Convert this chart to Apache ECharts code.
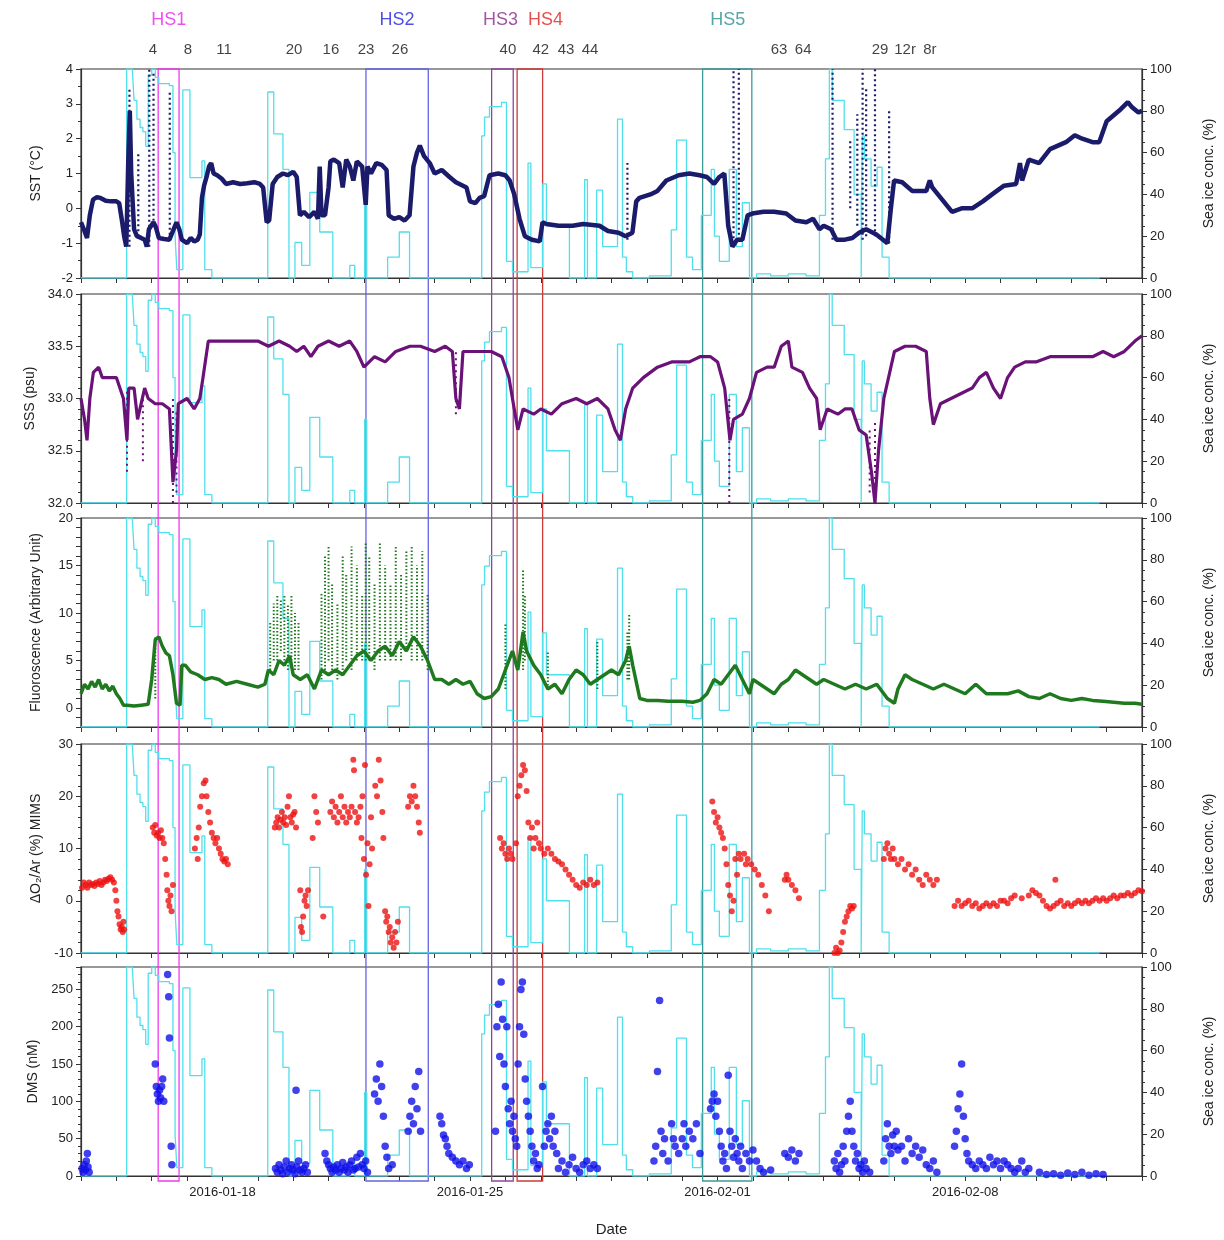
<!DOCTYPE html>
<html>
<head>
<meta charset="utf-8">
<script src="https://cdn.jsdelivr.net/npm/echarts@6/dist/echarts.min.js"></script>
<style>
  html, body { margin: 0; padding: 0; background: #fff; }
  #chart { width: 1224px; height: 1240px; }
</style>
</head>
<body>
<div id="chart"></div>
<script>
// x values are days since 2016-01-14 00:00
const dateTickDays = [4, 11, 18, 25];
const dateTickLabels = ['2016-01-18', '2016-01-25', '2016-02-01', '2016-02-08'];

const hsNames = ['HS1', 'HS2', 'HS3', 'HS4', 'HS5'];
const hsStart = [2.18, 8.05, 11.60, 12.32, 17.56];
const hsEnd = [2.77, 9.81, 12.21, 13.04, 18.95];
const hsLabelDay = [2.48, 8.93, 11.85, 13.12, 18.27];

const stationNames = ['4', '8', '11', '20', '16', '23', '26', '40', '42', '43', '44', '63', '64', '29', '12r', '8r'];
const stationDays = [2.03, 3.02, 4.04, 6.02, 7.06, 8.05, 9.01, 12.06, 12.99, 13.70, 14.38, 19.72, 20.40, 22.57, 23.28, 23.98];

// sea ice concentration (%), value holds from each day until the next one
const seaIce = [
  [0, 0], [1.29, 100], [1.45, 100], [1.5, 85], [1.58, 76], [1.67, 72], [1.75, 70], [1.83, 63],
  [1.9, 97], [2.0, 100], [2.1, 96], [2.2, 93], [2.5, 92], [2.6, 60], [2.66, 20], [2.71, 4],
  [2.88, 90], [3.08, 48], [3.42, 56], [3.5, 4], [3.7, 0],
  [5.28, 89], [5.45, 69], [5.71, 52], [5.88, 0], [6.05, 17], [6.24, 6], [6.47, 41], [6.75, 22],
  [7.12, 0], [7.6, 6], [7.74, 0], [8.02, 40], [8.08, 0], [8.67, 10], [9.0, 22], [9.29, 0],
  [11.33, 68], [11.41, 77], [11.55, 82], [11.89, 84], [12.03, 8], [12.2, 3], [12.64, 55],
  [12.72, 5], [13.05, 45], [13.16, 25], [13.81, 0], [14.24, 47], [14.32, 0], [14.58, 42],
  [14.75, 15], [15.17, 76], [15.31, 10], [15.42, 3], [15.6, 0], [16.07, 1], [16.69, 23],
  [16.84, 66], [17.12, 10], [17.29, 4], [17.54, 30], [17.82, 52], [17.91, 20], [18.05, 8],
  [18.33, 52], [18.53, 15], [18.7, 36], [18.9, 0], [19.1, 2], [19.5, 1], [20.0, 2], [20.5, 1],
  [20.88, 30], [21.05, 57], [21.16, 100], [21.24, 85], [21.58, 71], [21.86, 40], [22.06, 0],
  [22.09, 68], [22.15, 57], [22.34, 44], [22.51, 53], [22.65, 10], [22.85, 0], [28.8, 0]
];

const sst = [
  [0.0, -0.4], [0.08, -0.6], [0.17, -0.85], [0.25, -0.2], [0.34, 0.25], [0.45, 0.32], [0.55, 0.3],
  [0.7, 0.22], [0.85, 0.2], [1.0, 0.2], [1.08, 0.15], [1.15, -0.3], [1.22, -0.8], [1.28, -1.1],
  [1.34, 1.5], [1.38, 2.8], [1.42, 1.0], [1.5, -0.6], [1.58, -0.8], [1.7, -0.85], [1.8, -0.9],
  [1.86, -1.1], [1.92, -0.6], [2.05, -0.4], [2.12, -0.55], [2.2, -0.85], [2.35, -0.88], [2.5, -0.9],
  [2.7, -0.4], [2.78, -0.6], [2.85, -0.9], [3.0, -1.0], [3.1, -0.85], [3.2, -0.95], [3.3, -0.9],
  [3.36, -0.75], [3.42, 0.3], [3.48, 0.65], [3.55, 0.9], [3.62, 1.2], [3.68, 1.3], [3.75, 1.0],
  [3.85, 0.95], [3.98, 0.85], [4.1, 0.7], [4.3, 0.75], [4.5, 0.7], [4.7, 0.72], [4.9, 0.75],
  [5.06, 0.7], [5.15, 0.6], [5.25, -0.4], [5.32, -0.35], [5.42, 0.7], [5.55, 0.9], [5.71, 1.0],
  [5.85, 0.95], [6.0, 1.05], [6.1, 0.9], [6.19, -0.2], [6.3, -0.1], [6.45, -0.25], [6.6, -0.1],
  [6.7, -0.3], [6.75, 1.2], [6.8, -0.2], [6.9, -0.2], [7.0, 0.6], [7.05, 1.35], [7.15, 1.4],
  [7.3, 1.3], [7.4, 0.6], [7.5, 1.4], [7.6, 1.2], [7.7, 0.8], [7.8, 1.35], [7.95, 1.2], [8.05, 0.1],
  [8.1, 1.2], [8.2, 1.0], [8.35, 1.3], [8.5, 1.25], [8.64, 1.1], [8.7, -0.2], [8.85, -0.3],
  [9.0, -0.25], [9.15, -0.35], [9.29, -0.2], [9.4, 1.2], [9.5, 1.6], [9.58, 1.8], [9.7, 1.5],
  [9.86, 1.3], [10.0, 1.0], [10.2, 1.1], [10.42, 0.9], [10.6, 0.75], [10.9, 0.6], [11.0, 0.2],
  [11.15, 0.15], [11.27, 0.3], [11.4, 0.35], [11.55, 0.95], [11.8, 1.0], [12.0, 0.95], [12.12, 0.8],
  [12.25, 0.4], [12.4, -0.3], [12.55, -0.8], [12.75, -0.9], [12.97, -0.95], [13.05, -0.4],
  [13.16, -0.45], [13.5, -0.5], [13.9, -0.5], [14.2, -0.45], [14.66, -0.5], [14.9, -0.65],
  [15.2, -0.7], [15.4, -0.8], [15.59, -0.7], [15.7, 0.2], [15.79, 0.3], [16.1, 0.4], [16.3, 0.5],
  [16.55, 0.8], [16.9, 0.95], [17.2, 1.0], [17.49, 0.95], [17.7, 0.9], [17.9, 0.7], [18.05, 0.9],
  [18.19, 1.0], [18.3, -0.5], [18.42, -1.1], [18.55, -0.9], [18.7, -0.9], [18.85, -0.2],
  [18.98, -0.15], [19.3, -0.1], [19.6, -0.1], [19.94, -0.15], [20.2, -0.35], [20.51, -0.4],
  [20.7, -0.3], [20.88, -0.6], [21.0, -0.5], [21.21, -0.6], [21.36, -0.9], [21.6, -0.9],
  [21.81, -0.85], [22.0, -0.7], [22.2, -0.6], [22.49, -0.75], [22.8, -1.0], [22.9, 0.0],
  [22.99, 0.8], [23.22, 0.75], [23.5, 0.5], [23.9, 0.5], [24.0, 0.8], [24.07, 0.6], [24.35, 0.25],
  [24.63, -0.1], [24.9, 0.0], [25.2, 0.0], [25.5, 0.2], [25.76, 0.4], [26.1, 0.65], [26.44, 0.7],
  [26.55, 1.3], [26.61, 0.8], [26.8, 1.4], [27.09, 1.3], [27.4, 1.7], [27.85, 1.9], [28.1, 2.1],
  [28.31, 2.0], [28.6, 1.9], [28.79, 1.9], [29.0, 2.5], [29.35, 2.8], [29.6, 3.05], [29.72, 2.9],
  [29.9, 2.75], [30.0, 2.8]
];
// [day, low, high] columns of scattered points
const sstSpikes = [
  [1.37, -1.1, 3.45], [1.62, -0.8, 1.6], [1.93, -1.1, 4], [2.05, -0.5, 3.9], [2.51, -0.9, 3.4],
  [15.45, -0.9, 1.3], [18.45, -1, 4], [18.6, -0.9, 4], [21.25, -0.9, 4], [21.75, 0, 2],
  [21.95, -0.5, 2.7], [22.1, -0.9, 4], [22.2, -0.8, 3.5], [22.45, -0.8, 4], [22.85, -1, 2.8]
];

const sss = [
  [0.0, 33.0], [0.1, 32.8], [0.17, 32.6], [0.25, 33.0], [0.35, 33.25], [0.5, 33.3], [0.6, 33.2],
  [0.8, 33.2], [1.0, 33.2], [1.1, 33.1], [1.2, 33.0], [1.3, 32.6], [1.35, 33.1], [1.5, 33.1],
  [1.6, 32.8], [1.8, 33.1], [1.9, 33.0], [2.1, 32.95], [2.3, 32.95], [2.5, 32.9], [2.6, 32.2],
  [2.7, 32.5], [2.75, 32.95], [3.0, 33.0], [3.2, 32.9], [3.36, 33.0], [3.45, 33.2], [3.6, 33.55],
  [4.0, 33.55], [4.5, 33.55], [5.0, 33.55], [5.3, 33.5], [5.6, 33.55], [5.9, 33.5], [6.1, 33.45],
  [6.3, 33.5], [6.5, 33.4], [6.7, 33.5], [7.0, 33.55], [7.3, 33.5], [7.6, 33.55], [7.8, 33.45],
  [8.0, 33.3], [8.3, 33.4], [8.6, 33.35], [8.9, 33.45], [9.3, 33.5], [9.6, 33.5], [10.0, 33.45],
  [10.3, 33.5], [10.5, 33.45], [10.6, 33.0], [10.7, 32.9], [10.8, 33.45], [11.2, 33.45],
  [11.6, 33.45], [11.9, 33.4], [12.1, 33.2], [12.25, 32.9], [12.35, 32.7], [12.5, 32.9],
  [12.8, 32.85], [13.0, 32.9], [13.3, 32.85], [13.6, 32.95], [14.0, 33.0], [14.3, 32.95],
  [14.6, 33.0], [14.9, 32.9], [15.1, 32.7], [15.25, 32.6], [15.4, 32.9], [15.6, 33.1], [15.9, 33.2],
  [16.3, 33.3], [16.7, 33.35], [17.2, 33.35], [17.5, 33.4], [17.8, 33.4], [18.0, 33.35],
  [18.2, 33.1], [18.35, 32.6], [18.45, 32.8], [18.7, 32.85], [18.9, 33.0], [19.1, 33.25],
  [19.4, 33.3], [19.6, 33.3], [19.8, 33.5], [20.0, 33.55], [20.1, 33.3], [20.4, 33.25],
  [20.6, 33.1], [20.8, 33.0], [20.9, 32.7], [21.1, 32.9], [21.4, 32.85], [21.6, 32.9], [21.8, 32.9],
  [22.0, 32.7], [22.2, 32.65], [22.35, 32.3], [22.45, 32.0], [22.55, 32.5], [22.7, 33.0],
  [22.9, 33.3], [23.0, 33.45], [23.3, 33.5], [23.6, 33.5], [23.9, 33.45], [24.0, 33.0],
  [24.1, 32.75], [24.3, 32.95], [24.6, 33.0], [24.9, 33.05], [25.2, 33.1], [25.4, 33.2],
  [25.6, 33.25], [25.8, 33.1], [26.0, 33.0], [26.2, 33.2], [26.4, 33.3], [26.7, 33.35],
  [27.0, 33.35], [27.4, 33.4], [27.8, 33.4], [28.2, 33.4], [28.6, 33.4], [28.9, 33.45],
  [29.2, 33.4], [29.5, 33.45], [29.8, 33.55], [30.0, 33.6]
];
const sssSpikes = [
  [1.3, 32.3, 33.1], [1.75, 32.4, 33.0], [2.6, 32.0, 33.0], [2.7, 32.1, 32.9], [10.6, 32.85, 33.45],
  [18.33, 32.0, 33.0], [22.3, 32.1, 32.7], [22.45, 32.0, 32.8]
];

const fluor = [
  [0.0, 1.5], [0.1, 2.5], [0.2, 2.0], [0.3, 2.8], [0.4, 2.2], [0.5, 3.0], [0.6, 2.0], [0.7, 2.5],
  [0.8, 1.8], [0.9, 2.3], [1.0, 1.5], [1.1, 1.0], [1.2, 0.3], [1.3, 0.3], [1.5, 0.2], [1.7, 0.3],
  [1.9, 0.4], [2.0, 3], [2.1, 7.2], [2.2, 7.5], [2.3, 6.5], [2.4, 5.8], [2.5, 5.5], [2.6, 3.5],
  [2.7, 0.5], [2.8, 0.3], [2.85, 4.5], [2.95, 4.5], [3.1, 3.8], [3.3, 3.5], [3.5, 3.0], [3.7, 3.2],
  [3.9, 3.0], [4.1, 2.5], [4.4, 2.8], [4.7, 2.5], [5.0, 2.2], [5.2, 2.5], [5.3, 4], [5.45, 3.5],
  [5.6, 5.0], [5.75, 4.5], [5.9, 5.5], [6.0, 3.5], [6.2, 3.0], [6.4, 3.5], [6.6, 2.0], [6.8, 4.0],
  [7.0, 3.5], [7.2, 4.0], [7.4, 3.5], [7.6, 4.5], [7.8, 5.5], [8.0, 6.0], [8.2, 5.0], [8.4, 6.0],
  [8.6, 6.5], [8.8, 5.5], [9.0, 7.0], [9.2, 6.0], [9.4, 7.5], [9.6, 6.5], [9.8, 5.0], [9.9, 4.0],
  [10.0, 3.0], [10.2, 3.0], [10.4, 2.5], [10.6, 3.0], [10.8, 2.5], [11.0, 2.8], [11.2, 1.5],
  [11.4, 1.0], [11.6, 1.2], [11.8, 2.0], [12.0, 4], [12.2, 6], [12.35, 4], [12.5, 8], [12.6, 6],
  [12.8, 4.5], [13.0, 3.5], [13.2, 2.0], [13.4, 2.5], [13.6, 1.5], [13.8, 3.0], [14.0, 4.0],
  [14.2, 3.5], [14.4, 2.5], [14.6, 3.0], [14.8, 3.5], [15.0, 4.0], [15.2, 3.5], [15.4, 5.0],
  [15.5, 6.5], [15.6, 4.5], [15.8, 1.0], [16.0, 0.8], [16.3, 0.8], [16.6, 0.7], [17.0, 0.7],
  [17.3, 0.6], [17.5, 0.8], [17.7, 1.5], [17.9, 3.0], [18.1, 2.5], [18.3, 3.5], [18.5, 4.5],
  [18.7, 3.0], [18.9, 1.5], [19.0, 3.0], [19.2, 2.5], [19.4, 2.0], [19.6, 1.5], [19.8, 2.5],
  [20.0, 3.0], [20.2, 4.0], [20.4, 3.5], [20.6, 3.0], [20.8, 2.5], [21.0, 3.0], [21.3, 2.5],
  [21.6, 2.0], [21.9, 2.5], [22.2, 2.0], [22.5, 2.5], [22.8, 1.0], [23.0, 0.5], [23.1, 2.0],
  [23.3, 3.5], [23.5, 3.0], [23.8, 2.5], [24.1, 2.0], [24.4, 2.5], [24.7, 2.0], [25.0, 1.5],
  [25.3, 2.5], [25.6, 1.5], [25.9, 1.5], [26.2, 1.5], [26.5, 1.8], [26.8, 1.2], [27.1, 1.0],
  [27.4, 1.5], [27.7, 1.0], [28.0, 0.8], [28.3, 1.0], [28.6, 0.8], [28.9, 0.7], [29.2, 0.6],
  [29.5, 0.5], [29.8, 0.5], [30.0, 0.4]
];
const fluorSpikes = [
  [2.1, 1, 7.5], [5.35, 4, 9], [5.45, 5, 11], [5.55, 5, 12], [5.65, 6, 11.5], [5.75, 5, 12],
  [5.85, 4, 11], [5.95, 5, 12], [6.05, 4, 10], [6.15, 4, 9], [6.8, 3, 12], [6.9, 4, 16],
  [7.0, 5, 17], [7.1, 4, 13], [7.25, 3, 11], [7.4, 4, 16], [7.5, 5, 14], [7.65, 4, 17],
  [7.8, 5, 15], [7.95, 5, 12], [8.05, 5, 17.5], [8.15, 5, 16], [8.3, 4, 13], [8.45, 5, 17.5],
  [8.6, 5, 15], [8.75, 5, 13], [8.9, 5, 17], [9.05, 5, 14], [9.2, 6, 16.5], [9.35, 5, 17],
  [9.5, 5, 15], [9.65, 5, 16.5], [9.8, 4, 12], [12.0, 2, 9], [12.5, 4, 14.5], [12.55, 5, 12],
  [13.2, 2, 6], [14.6, 2, 7], [15.45, 3, 8], [15.5, 3, 10]
];

const o2ar = [
  [0.03, 2.5], [0.08, 3.5], [0.13, 3], [0.18, 2.5], [0.23, 3.5], [0.28, 3], [0.33, 3.2], [0.38, 2.8],
  [0.43, 3.5], [0.48, 3.2], [0.53, 3.8], [0.58, 3], [0.63, 3.5], [0.68, 4], [0.73, 3.8], [0.78, 4.2],
  [0.83, 4.5], [0.88, 4], [0.93, 3.5], [0.97, 2], [1.0, 0], [1.03, -2], [1.06, -3], [1.09, -4.5],
  [1.12, -5.5], [1.15, -5], [1.18, -6], [1.2, -4], [1.22, -5.5],
  [2.03, 14], [2.07, 13], [2.1, 14.5], [2.14, 12.5], [2.18, 13], [2.22, 12], [2.26, 13.5], [2.3, 12],
  [2.34, 11], [2.38, 8], [2.42, 5], [2.44, 2], [2.47, 0], [2.5, -1], [2.53, 1], [2.56, -2], [2.6, 3],
  [3.22, 10], [3.27, 12], [3.3, 8], [3.33, 14], [3.37, 18], [3.42, 20], [3.47, 22.5], [3.52, 23],
  [3.55, 20], [3.6, 17], [3.65, 15], [3.7, 13], [3.75, 12], [3.8, 11], [3.85, 12], [3.9, 10],
  [3.95, 9], [4.0, 8], [4.05, 7.5], [4.1, 8], [4.15, 7],
  [5.48, 14], [5.52, 15], [5.56, 16], [5.6, 14], [5.64, 15.5], [5.68, 17], [5.72, 15], [5.76, 16],
  [5.8, 14.5], [5.84, 18], [5.88, 20], [5.92, 16], [5.96, 15], [6.0, 16.5], [6.04, 17], [6.08, 14],
  [6.2, 2], [6.22, -5], [6.25, -6], [6.28, -3], [6.32, 0], [6.35, 1], [6.38, -1], [6.42, 2],
  [6.55, 12], [6.6, 20], [6.65, 17], [6.7, 15], [6.85, -3],
  [7.05, 17], [7.1, 19], [7.15, 16], [7.2, 18], [7.25, 15], [7.3, 17], [7.35, 20], [7.4, 16],
  [7.45, 18], [7.5, 15], [7.55, 17], [7.6, 16], [7.65, 18], [7.7, 27], [7.72, 25], [7.75, 17],
  [7.8, 15], [7.85, 16], [7.9, 18], [7.93, 12], [7.96, 20], [8.0, 8], [8.03, 26], [8.06, 5],
  [8.1, 11], [8.13, -1], [8.16, 7], [8.2, 16], [8.23, 10],
  [8.32, 22], [8.37, 20], [8.42, 27], [8.47, 23], [8.52, 17], [8.55, 12],
  [8.6, -2], [8.63, -4], [8.66, -3], [8.7, -6], [8.73, -5], [8.76, -8], [8.8, -7], [8.84, -9],
  [8.88, -6], [8.92, -8], [8.96, -4],
  [9.25, 18], [9.3, 20], [9.35, 19], [9.4, 22], [9.45, 20], [9.5, 18], [9.55, 15], [9.58, 13],
  [11.85, 12], [11.9, 10], [11.95, 11], [12.0, 9], [12.05, 8], [12.1, 10], [12.15, 9], [12.2, 8],
  [12.3, 11], [12.35, 20], [12.4, 22], [12.45, 24], [12.5, 26], [12.55, 25], [12.6, 21],
  [12.65, 15], [12.7, 12], [12.75, 14], [12.8, 10], [12.85, 12], [12.9, 15], [12.95, 11],
  [13.0, 10], [13.1, 9], [13.2, 10], [13.3, 9], [13.4, 8], [13.5, 7.5], [13.6, 7], [13.7, 6],
  [13.8, 5], [13.9, 4], [14.0, 3], [14.1, 2.5], [14.2, 3.5], [14.3, 3], [14.4, 4], [14.5, 3],
  [14.6, 3.5],
  [17.85, 19], [17.9, 17], [17.95, 15], [18.0, 16], [18.05, 14], [18.1, 13], [18.15, 12], [18.2, 10],
  [18.25, 7], [18.3, 3], [18.35, 1], [18.4, -2], [18.45, 0], [18.5, 8], [18.55, 5], [18.6, 9],
  [18.65, 8], [18.75, 9], [18.8, 7], [18.85, 8], [18.95, 7], [19.05, 6], [19.15, 5], [19.25, 3],
  [19.35, 1], [19.45, -2],
  [19.9, 4], [19.95, 5], [20.0, 4], [20.1, 3], [20.2, 2], [20.3, 0.5],
  [21.3, -10], [21.35, -9], [21.4, -10], [21.45, -9.5], [21.5, -8], [21.55, -6], [21.6, -4],
  [21.65, -3], [21.7, -2], [21.75, -1], [21.8, -1.5], [21.85, -1],
  [22.7, 8], [22.75, 10], [22.8, 11], [22.85, 9], [22.9, 8], [22.95, 10], [23.0, 8], [23.1, 7],
  [23.2, 8], [23.3, 6], [23.4, 7], [23.5, 5], [23.6, 6], [23.7, 4], [23.8, 3], [23.9, 5], [24.0, 4],
  [24.1, 3], [24.2, 4],
  [24.7, -1], [24.8, 0], [24.9, -1], [25.0, -0.5], [25.1, 0], [25.2, -1], [25.3, -0.5], [25.4, -1.5],
  [25.5, -1], [25.6, -0.5], [25.7, -1], [25.8, -0.5], [25.9, -1], [26.0, 0], [26.1, 0], [26.2, -0.5],
  [26.3, 0.5], [26.4, 1], [26.6, 0.5], [26.8, 1], [26.9, 2], [27.0, 1.5], [27.1, 1], [27.2, 0],
  [27.3, -1], [27.4, -1.5], [27.5, -1], [27.55, 4], [27.6, -0.5], [27.7, 0], [27.8, -1], [27.9, -0.5],
  [28.0, -1], [28.1, -0.5], [28.2, 0], [28.3, -0.5], [28.4, 0], [28.5, -0.5], [28.6, 0], [28.7, 0.5],
  [28.8, 0], [28.9, 0.5], [29.0, 0], [29.1, 0.5], [29.2, 1], [29.3, 0.5], [29.4, 1], [29.5, 1],
  [29.6, 1.5], [29.7, 1], [29.8, 1.5], [29.9, 2], [30.0, 1.8]
];

const dms = [
  [0.03, 10], [0.06, 5], [0.09, 15], [0.12, 8], [0.15, 20], [0.18, 30], [0.2, 12], [0.23, 5],
  [2.1, 150], [2.13, 120], [2.16, 110], [2.19, 100], [2.22, 115], [2.25, 105], [2.28, 120],
  [2.31, 130], [2.34, 100], [2.45, 270], [2.48, 240], [2.5, 185], [2.55, 40], [2.57, 15],
  [5.5, 10], [5.55, 5], [5.6, 15], [5.65, 8], [5.7, 3], [5.75, 12], [5.8, 20], [5.85, 5], [5.9, 10],
  [5.95, 15], [6.0, 8], [6.05, 3], [6.08, 115], [6.1, 12], [6.15, 20], [6.2, 8], [6.25, 5],
  [6.3, 10], [6.35, 15], [6.4, 5],
  [6.9, 30], [6.95, 20], [7.0, 15], [7.05, 10], [7.1, 5], [7.15, 12], [7.2, 8], [7.25, 15], [7.3, 5],
  [7.35, 10], [7.4, 18], [7.45, 8], [7.5, 12], [7.55, 5], [7.6, 15], [7.65, 20], [7.7, 8],
  [7.75, 10], [7.8, 25], [7.85, 12], [7.9, 30], [7.95, 15], [8.0, 10], [8.05, 20], [8.1, 5],
  [8.3, 110], [8.35, 130], [8.4, 100], [8.45, 150], [8.5, 120], [8.55, 80], [8.6, 40], [8.65, 25],
  [8.7, 10], [8.8, 15],
  [9.25, 60], [9.3, 80], [9.35, 100], [9.4, 70], [9.45, 120], [9.5, 90], [9.55, 140], [9.6, 60],
  [10.15, 80], [10.2, 70], [10.25, 55], [10.3, 50], [10.35, 40], [10.4, 30], [10.5, 25], [10.6, 20],
  [10.7, 15], [10.8, 20], [10.9, 10], [10.98, 15],
  [11.72, 60], [11.76, 200], [11.8, 230], [11.84, 160], [11.88, 260], [11.92, 210], [11.96, 150],
  [12.0, 120], [12.04, 200], [12.08, 90], [12.12, 70], [12.16, 100], [12.2, 60], [12.24, 80],
  [12.28, 50], [12.32, 40], [12.36, 150], [12.4, 200], [12.44, 250], [12.48, 260], [12.52, 190],
  [12.56, 130], [12.6, 100], [12.65, 80], [12.7, 60], [12.75, 40], [12.8, 20], [12.85, 30],
  [12.9, 10], [12.95, 15],
  [13.05, 120], [13.1, 40], [13.15, 60], [13.2, 70], [13.25, 50], [13.3, 80], [13.35, 40],
  [13.4, 60], [13.45, 30], [13.5, 10], [13.6, 20], [13.7, 5], [13.8, 15], [13.9, 25], [14.0, 10],
  [14.1, 5], [14.2, 15], [14.3, 20], [14.4, 10], [14.5, 15], [14.6, 10],
  [16.2, 20], [16.25, 40], [16.3, 140], [16.36, 235], [16.4, 60], [16.45, 30], [16.5, 50],
  [16.6, 20], [16.7, 70], [16.75, 50], [16.8, 40], [16.9, 30], [17.0, 50], [17.05, 70], [17.1, 40],
  [17.2, 60], [17.3, 50], [17.4, 70], [17.5, 30],
  [17.8, 90], [17.85, 100], [17.9, 110], [17.95, 80], [18.0, 100], [18.05, 60], [18.1, 40],
  [18.15, 20], [18.2, 30], [18.25, 10], [18.3, 135], [18.35, 60], [18.4, 40], [18.45, 25],
  [18.5, 50], [18.55, 30], [18.6, 20], [18.65, 40], [18.7, 10], [18.8, 30], [18.9, 20], [19.0, 35],
  [19.1, 20], [19.2, 10], [19.3, 5], [19.5, 8],
  [19.9, 30], [20.0, 25], [20.1, 35], [20.2, 20], [20.3, 30],
  [21.3, 20], [21.35, 10], [21.4, 30], [21.45, 5], [21.5, 15], [21.55, 40], [21.6, 20], [21.65, 60],
  [21.7, 80], [21.75, 100], [21.8, 60], [21.85, 40], [21.9, 20], [21.95, 30], [22.0, 10],
  [22.05, 15], [22.1, 5], [22.15, 20], [22.2, 10], [22.3, 5],
  [22.7, 20], [22.75, 50], [22.8, 70], [22.85, 40], [22.9, 30], [22.95, 55], [23.0, 40], [23.05, 60],
  [23.1, 35], [23.2, 40], [23.3, 20], [23.4, 50], [23.5, 30], [23.6, 40], [23.7, 25], [23.8, 35],
  [23.9, 15], [24.0, 10], [24.1, 20], [24.2, 5],
  [24.7, 40], [24.75, 60], [24.8, 90], [24.85, 110], [24.9, 150], [24.95, 80], [25.0, 50],
  [25.05, 30], [25.1, 20], [25.2, 15], [25.3, 10], [25.4, 20], [25.5, 15], [25.6, 10], [25.7, 25],
  [25.8, 15], [25.9, 20], [26.0, 10], [26.1, 20], [26.2, 15], [26.3, 10], [26.4, 5], [26.5, 10],
  [26.6, 20], [26.7, 5], [26.8, 10],
  [27.1, 5], [27.3, 2], [27.5, 3], [27.7, 1], [27.9, 4], [28.1, 2], [28.3, 5], [28.5, 1], [28.7, 3],
  [28.9, 2]
];

const font = 'Liberation Sans, Arial, sans-serif';
const axisColor = '#333';
const iceColor = '#4fe0ec';
const hsColors = ['#ee3aee', '#6464e0', '#8c4898', '#cc3a3a', '#3c9c9c'];
const hsTextColors = ['#ee22ee', '#2222dd', '#882a8c', '#e02222', '#2a9090'];

const panelTop = [69, 294, 518, 744, 967];
const panelHeight = 209;

function spikeLine(list) {
  var out = [];
  list.forEach(function (s) {
    out.push([s[0], s[1]], [s[0], s[2]], [s[0], '-']);
  });
  return out;
}

function dateLabel(v) {
  var i = dateTickDays.indexOf(v);
  return i >= 0 ? dateTickLabels[i] : '';
}

var grids = [];
var xAxes = [];
var yAxes = [];
var series = [];

const leftAxes = [
  { name: 'SST (°C)', min: -2, max: 4, interval: 1, minor: 2, fmt: null },
  { name: 'SSS (psu)', min: 32, max: 34, interval: 0.5, minor: 5, fmt: function (v) { return v.toFixed(1); } },
  { name: 'Fluoroscence (Arbitrary Unit)', min: -2, max: 20, interval: 1, minor: 0, fmt: function (v) { return v % 5 === 0 ? v : ''; } },
  { name: 'ΔO₂/Ar (%) MIMS', min: -10, max: 30, interval: 10, minor: 5, fmt: null },
  { name: 'DMS (nM)', min: 0, max: 280, interval: 50, minor: 5, fmt: null }
];

for (let i = 0; i < 5; i++) {
  grids.push({
    left: 81, right: 81, top: panelTop[i], height: panelHeight,
    show: true, borderColor: axisColor, borderWidth: 1.2, backgroundColor: 'transparent'
  });
  xAxes.push({
    type: 'value', gridIndex: i, min: 0, max: 30, interval: 1,
    axisLine: { onZero: false, lineStyle: { color: axisColor, width: 1.2 } },
    axisTick: { length: 5, lineStyle: { color: axisColor } },
    splitLine: { show: false },
    axisLabel: { show: i === 4, formatter: dateLabel, color: '#222', fontSize: 13, fontFamily: font, margin: 10 },
    name: i === 4 ? 'Date' : '', nameLocation: 'middle', nameGap: 46,
    nameTextStyle: { fontSize: 15, color: '#222', fontFamily: font }
  });
  const la = leftAxes[i];
  yAxes.push({
    type: 'value', gridIndex: i, position: 'left', min: la.min, max: la.max, interval: la.interval,
    axisLine: { show: true, onZero: false, lineStyle: { color: axisColor, width: 1.2 } },
    axisTick: { show: true, length: 5, lineStyle: { color: axisColor } },
    minorTick: { show: la.minor > 0, splitNumber: la.minor || 5, length: 3, lineStyle: { color: axisColor } },
    splitLine: { show: false },
    axisLabel: { color: '#222', fontSize: 13, fontFamily: font, formatter: la.fmt || undefined, showMaxLabel: i !== 4 },
    name: la.name, nameLocation: 'middle', nameRotate: 90, nameGap: 38,
    nameTextStyle: { fontSize: 14, color: '#222', fontFamily: font }
  });
  yAxes.push({
    type: 'value', gridIndex: i, position: 'right', min: 0, max: 100, interval: 20,
    axisLine: { show: true, onZero: false, lineStyle: { color: axisColor, width: 1.2 } },
    axisTick: { show: true, length: 5, lineStyle: { color: axisColor } },
    minorTick: { show: true, splitNumber: 4, length: 3, lineStyle: { color: axisColor } },
    splitLine: { show: false },
    axisLabel: { color: '#222', fontSize: 13, fontFamily: font },
    name: 'Sea ice conc. (%)', nameLocation: 'middle', nameRotate: 90, nameGap: 60,
    nameTextStyle: { fontSize: 14, color: '#222', fontFamily: font }
  });
  series.push({
    type: 'line', name: 'ice' + i, xAxisIndex: i, yAxisIndex: i * 2 + 1, data: seaIce,
    step: 'end', showSymbol: false, lineStyle: { color: iceColor, width: 1.3 }, z: 1
  });
}

// SST
series.push({ type: 'line', xAxisIndex: 0, yAxisIndex: 0, data: spikeLine(sstSpikes), showSymbol: false,
  lineStyle: { color: '#1b1b6b', width: 2.2, type: [2, 3] }, z: 3 });
series.push({ type: 'line', xAxisIndex: 0, yAxisIndex: 0, data: sst, showSymbol: false,
  lineStyle: { color: '#1b1b6b', width: 4.5 }, z: 4 });
// SSS
series.push({ type: 'line', xAxisIndex: 1, yAxisIndex: 2, data: spikeLine(sssSpikes), showSymbol: false,
  lineStyle: { color: '#6a1278', width: 2, type: [2, 4] }, z: 3 });
series.push({ type: 'line', xAxisIndex: 1, yAxisIndex: 2, data: sss, showSymbol: false,
  lineStyle: { color: '#6a1278', width: 3.2 }, z: 4 });
// Fluorescence
series.push({ type: 'line', xAxisIndex: 2, yAxisIndex: 4, data: spikeLine(fluorSpikes), showSymbol: false,
  lineStyle: { color: '#1f7a1f', width: 2, type: [1.5, 2] }, z: 3 });
series.push({ type: 'line', xAxisIndex: 2, yAxisIndex: 4, data: fluor, showSymbol: false,
  lineStyle: { color: '#1f7a1f', width: 3.5 }, z: 4 });
// dO2/Ar
series.push({ type: 'scatter', xAxisIndex: 3, yAxisIndex: 6, data: o2ar, symbolSize: 6,
  itemStyle: { color: '#ee1111' }, z: 4 });
// DMS
series.push({ type: 'scatter', xAxisIndex: 4, yAxisIndex: 8, data: dms, symbolSize: 7.5,
  itemStyle: { color: '#1010e8' }, z: 4 });

// overlay grid for the hotspot boxes
grids.push({ left: 81, right: 81, top: 69, bottom: 1240 - 1181 });
xAxes.push({ type: 'value', gridIndex: 5, min: 0, max: 30, show: false });
yAxes.push({ type: 'value', gridIndex: 5, min: 0, max: 1, show: false });
series.push({
  type: 'line', xAxisIndex: 5, yAxisIndex: 10, data: [], silent: true, z: 6,
  markArea: {
    silent: true,
    data: hsNames.map(function (n, k) {
      return [
        { xAxis: hsStart[k], itemStyle: { color: 'rgba(0,0,0,0)', borderColor: hsColors[k], borderWidth: 1.3 } },
        { xAxis: hsEnd[k] }
      ];
    })
  }
});

// label strip at the top
grids.push({ left: 81, right: 81, top: 8, height: 54 });
xAxes.push({ type: 'value', gridIndex: 6, min: 0, max: 30, show: false });
yAxes.push({ type: 'value', gridIndex: 6, min: 0, max: 1, show: false });
series.push({
  type: 'scatter', xAxisIndex: 6, yAxisIndex: 11, symbolSize: 1, clip: false, silent: true,
  itemStyle: { color: 'rgba(0,0,0,0)' },
  data: stationNames.map(function (n, k) { return { name: n, value: [stationDays[k], 0.22] }; }),
  label: { show: true, position: 'inside', formatter: '{b}', color: '#111', fontSize: 15, fontFamily: font }
});
series.push({
  type: 'scatter', xAxisIndex: 6, yAxisIndex: 11, symbolSize: 1, clip: false, silent: true,
  itemStyle: { color: 'rgba(0,0,0,0)' },
  data: hsNames.map(function (n, k) {
    return { name: n, value: [hsLabelDay[k], 0.78], label: { color: hsTextColors[k] } };
  }),
  label: { show: true, position: 'inside', formatter: '{b}', fontSize: 18, fontFamily: font }
});

var chart = echarts.init(document.getElementById('chart'));
chart.setOption({
  animation: false,
  backgroundColor: '#fff',
  textStyle: { fontFamily: font },
  grid: grids,
  xAxis: xAxes,
  yAxis: yAxes,
  series: series
});
</script>
</body>
</html>
